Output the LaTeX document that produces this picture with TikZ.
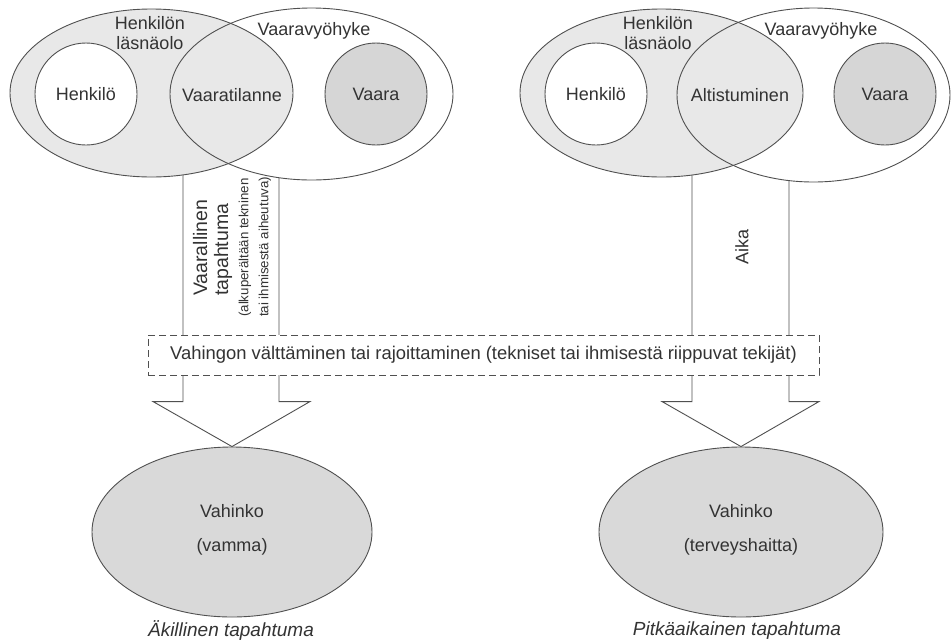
\documentclass[tikz,border=0pt]{standalone}
\usepackage{fontspec}
\setmainfont{Liberation Sans}
\usetikzlibrary{shapes.geometric,calc}

\definecolor{ink}{HTML}{505050}
\definecolor{txt}{HTML}{333333}
\definecolor{presence}{HTML}{E8E8E8}
\definecolor{hazard}{HTML}{D6D6D6}
\definecolor{harm}{HTML}{D9D9D9}

\tikzset{
  outline/.style={draw=ink, line width=0.9pt},
  oval/.style={ellipse, inner sep=0pt},
  disc/.style={circle, outline, inner sep=0pt, minimum size=102pt},
  lbl/.style={text=txt, font=\fontsize{18}{20.5}\selectfont, align=center, inner sep=0pt},
  smalllbl/.style={text=txt, font=\fontsize{13.3}{20}\selectfont, align=left, inner sep=0pt},
  caption/.style={lbl, font=\fontsize{19}{21}\selectfont\itshape},
  blockarrow/.style={outline, fill=white, line join=miter},
  barrier/.style={rectangle, draw=ink, line width=0.9pt, dash pattern=on 7pt off 4pt,
                  fill=white, minimum width=671pt, minimum height=40pt, inner sep=0pt}
}

\begin{document}
\begin{tikzpicture}[x=1pt,y=-1pt]
\useasboundingbox (0,0) rectangle (951,641);

% outcome ovals
\node[oval, outline, fill=harm, minimum width=280pt, minimum height=170pt] (dmgA) at (232,532) {};
\node[oval, outline, fill=harm, minimum width=284pt, minimum height=170pt] (dmgB) at (741,532) {};
\node[lbl] (dmgAtxt) at (232,530) {Vahinko\\[14pt](vamma)};
\node[lbl] (dmgBtxt) at (741,530) {Vahinko\\[14pt](terveyshaitta)};
\node[caption] (capA) at (231,631) {Äkillinen tapahtuma};
\node[caption] (capB) at (737,631) {Pitkäaikainen tapahtuma};

% block arrows (their tops disappear behind the ovals above)
\draw[blockarrow] ($(dmgA.north)+(-49,-290)$) -- ($(dmgA.north)+(-49,-45)$)
  -- ($(dmgA.north)+(-79,-45)$) -- (dmgA.north) -- ($(dmgA.north)+(78,-45)$)
  -- ($(dmgA.north)+(47,-45)$) -- ($(dmgA.north)+(47,-290)$);
\draw[blockarrow] ($(dmgB.north)+(-49,-290)$) -- ($(dmgB.north)+(-49,-45)$)
  -- ($(dmgB.north)+(-79,-45)$) -- (dmgB.north) -- ($(dmgB.north)+(78,-45)$)
  -- ($(dmgB.north)+(48,-45)$) -- ($(dmgB.north)+(48,-290)$);

% left group: sudden event
\node[oval, fill=white, minimum width=283pt, minimum height=172pt] (zoneA) at (311.5,94) {};
\node[oval, outline, fill=presence, minimum width=283pt, minimum height=168pt] (presA) at (151.5,93) {};
\draw[outline] (zoneA.center) ellipse[x radius=141.5, y radius=86];
\node[disc, fill=white] (personA) at (86,94) {};
\node[disc, fill=hazard] (hazardA) at (376,94) {};
\node[lbl] at (personA) {Henkilö};
\node[lbl] at (hazardA) {Vaara};
\node[lbl] (situA) at (232,95) {Vaaratilanne};
\node[lbl] (presAtxt) at (150,33) {Henkilön\\läsnäolo};
\node[lbl] (zoneAtxt) at (314,31) {Vaaravyöhyke};

% right group: long-term event
\node[oval, fill=white, minimum width=273pt, minimum height=174pt] (zoneB) at (813.5,95) {};
\node[oval, outline, fill=presence, minimum width=283pt, minimum height=168pt] (presB) at (661.5,93) {};
\draw[outline] (zoneB.center) ellipse[x radius=136.5, y radius=87];
\node[disc, fill=white] (personB) at (596,94) {};
\node[disc, fill=hazard] (hazardB) at (885,94) {};
\node[lbl] at (personB) {Henkilö};
\node[lbl] at (hazardB) {Vaara};
\node[lbl] (exposB) at (740,95) {Altistuminen};
\node[lbl] (presBtxt) at (658,33) {Henkilön\\läsnäolo};
\node[lbl] (zoneBtxt) at (821,31) {Vaaravyöhyke};

% texts inside the arrow shafts
\node[lbl, font=\fontsize{19.5}{21}\selectfont, align=left, rotate=90, anchor=west] (eventA) at (212.5,296) {Vaarallinen\\tapahtuma};
\node[smalllbl, rotate=90, anchor=west] (causeA) at (255,317) {(alkuperältään tekninen\\tai ihmisestä aiheutuva)};
\node[lbl, rotate=90] (timeB) at (742,247) {Aika};

% barrier across both shafts
\node[barrier] (barrier) at (483.5,355) {};
\node[lbl, font=\fontsize{18.4}{21}\selectfont] at (barrier) {Vahingon välttäminen tai rajoittaminen (tekniset tai ihmisestä riippuvat tekijät)};
\end{tikzpicture}
\end{document}
